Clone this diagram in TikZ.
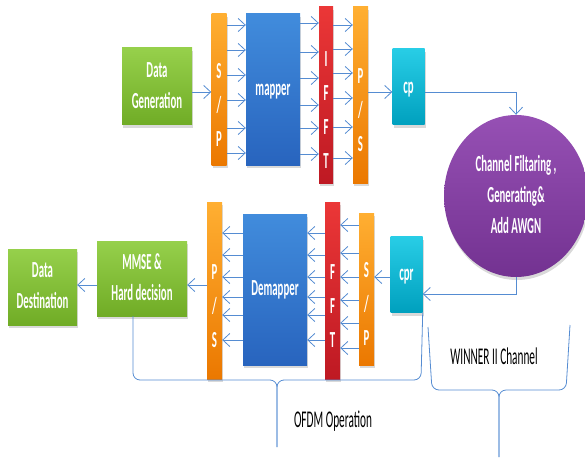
\documentclass[tikz,border=0pt]{standalone}
\usepackage{fontspec}
\setmainfont{Carlito}
\usepackage{graphicx}
\usetikzlibrary{shapes,arrows,positioning,shadows,calc,shapes.geometric,arrows.meta}
\definecolor{linkblue}{RGB}{85,140,210}
\definecolor{greentop}{RGB}{150,208,75}
\definecolor{greenbot}{RGB}{112,172,38}
\definecolor{orangetop}{RGB}{255,175,50}
\definecolor{orangebot}{RGB}{235,120,0}
\definecolor{bluetop}{RGB}{65,140,220}
\definecolor{bluebot}{RGB}{40,100,190}
\definecolor{redtop}{RGB}{235,55,55}
\definecolor{redbot}{RGB}{190,25,35}
\definecolor{cyantop}{RGB}{40,205,230}
\definecolor{cyanbot}{RGB}{0,160,190}
\definecolor{purpletop}{RGB}{150,80,180}
\definecolor{purplebot}{RGB}{115,50,145}
\newcommand{\squeeze}[1]{\scalebox{0.47}[1]{\begin{tabular}{@{}c@{}}#1\end{tabular}}}
\newcommand{\barlabel}[1]{\raisebox{-22pt}[0pt][0pt]{\fontsize{23}{34}\selectfont\squeeze{#1}}}

\begin{document}
\begin{tikzpicture}[x=1pt,y=-1pt,
				blk/.style={rectangle, inner sep=0pt, text=white, font=\fontsize{23}{31}\selectfont\bfseries, drop shadow={opacity=0.3, shadow xshift=1pt, shadow yshift=-3pt}},
				gbox/.style={blk, top color=greentop, bottom color=greenbot},
				obar/.style={blk, top color=orangetop, bottom color=orangebot, minimum width=15pt},
				bbox/.style={blk, top color=bluetop, bottom color=bluebot},
				rbar/.style={blk, top color=redtop, bottom color=redbot, minimum width=14pt},
				cbox/.style={blk, top color=cyantop, bottom color=cyanbot, minimum width=32pt, minimum height=76pt},
				lab/.style={text=black, font=\fontsize{24}{31}\selectfont},
				arr/.style={draw=linkblue, line width=0.8pt, -{Straight Barb[length=7pt,width=13pt]}},
				brace/.style={draw=linkblue, line width=0.8pt, rounded corners=7pt}
				]
				\useasboundingbox (0,0) rectangle (585,457);
				
				\node[gbox, minimum width=70pt, minimum height=77pt] (gen) at (157,86.5) {\squeeze{Data\\Generation}};
				\node[obar, minimum height=151pt] (sp1) at (219,89.5) {\barlabel{S\\/\\P}};
				\node[bbox, minimum width=54pt, minimum height=151pt] (map) at (273,89.5) {\squeeze{mapper}};
				\node[rbar, minimum height=176pt] (ifft) at (326,95) {\barlabel{I\\F\\F\\T}};
				\node[obar, minimum height=176pt] (ps1) at (360.5,95) {\barlabel{P\\/\\S}};
				\node[cbox] (cp) at (408.5,87) {\squeeze{cp}};
				\node[blk, ellipse, top color=purpletop, bottom color=purplebot, minimum width=144pt, minimum height=162pt] (chan) at (516,196) {\squeeze{Channel Filtaring ,\\Generating\&\\Add AWGN}};
				
				\node[cbox] (cpr) at (406.5,274.5) {\squeeze{cpr}};
				\node[obar, minimum height=152pt] (sp2) at (366.5,289) {\barlabel{S\\/\\P}};
				\node[rbar, minimum width=15pt, minimum height=177pt] (fft) at (332.5,290.5) {\barlabel{F\\F\\T}};
				\node[bbox, minimum width=64pt, minimum height=151pt] (demap) at (275,289.5) {\squeeze{Demapper}};
				\node[obar, minimum height=177pt] (ps2) at (214.5,290.5) {\barlabel{P\\/\\S}};
				\node[gbox, minimum width=90pt, minimum height=75pt] (mmse) at (142,278.5) {\squeeze{MMSE \&\\Hard decision}};
				\node[gbox, minimum width=69pt, minimum height=76pt] (dest) at (42.5,287) {\squeeze{Data\\Destination}};
				
				\draw[arr] (gen.east |- 0,92) -- (sp1.west |- 0,92);
				\foreach \y in {25,50,75,100,128,153}
				\draw[arr] (sp1.east |- 0,\y) -- (map.west |- 0,\y);
				\foreach \y in {23,52,78,105,128,154}
				\draw[arr] (map.east |- 0,\y) -- (ifft.west |- 0,\y);
				\foreach \y in {25,49,73,98,127,158}
				\draw[arr] (ifft.east |- 0,\y) -- (ps1.west |- 0,\y);
				\draw[arr] (ps1.east |- 0,92) -- (cp.west |- 0,92);
				\draw[arr] (cp.east |- 0,92) -| (chan.north);
				\draw[arr] (chan.south) |- (cpr.east |- 0,294);
				\draw[arr] (cpr.west |- 0,277) -- (sp2.east |- 0,277);
				\foreach \y in {225,253,277,300,323,348}
				\draw[arr] (sp2.west |- 0,\y) -- (fft.east |- 0,\y);
				\foreach \y in {233,255,277,297,315,340}
				{\draw[arr] (fft.west |- 0,\y) -- (demap.east |- 0,\y);
				\draw[arr] (demap.west |- 0,\y) -- (ps2.east |- 0,\y);}
				\draw[arr] (ps2.west |- 0,285) -- (mmse.east |- 0,285);
				\draw[arr] (mmse.west |- 0,285) -- (dest.east |- 0,285);
				
				% braces
				\draw[brace] ([xshift=-9pt]mmse.south) -- (133,380) -- (277,380) -- (277,447);
				\draw[brace] (cpr.south east) -- (421,380) -- (277,380) -- (277,447);
				\draw[brace] (428,327) -- (432,390) -- (499,390) -- (499,457);
				\draw[brace] (570,325) -- (566,390) -- (499,390) -- (499,457);
				
				\node[lab] (ofdm) at (333,421) {\squeeze{OFDM Operation}};
				\node[lab] (winner) at (494,358) {\squeeze{WINNER II Channel}};
			\end{tikzpicture}
\end{document}
